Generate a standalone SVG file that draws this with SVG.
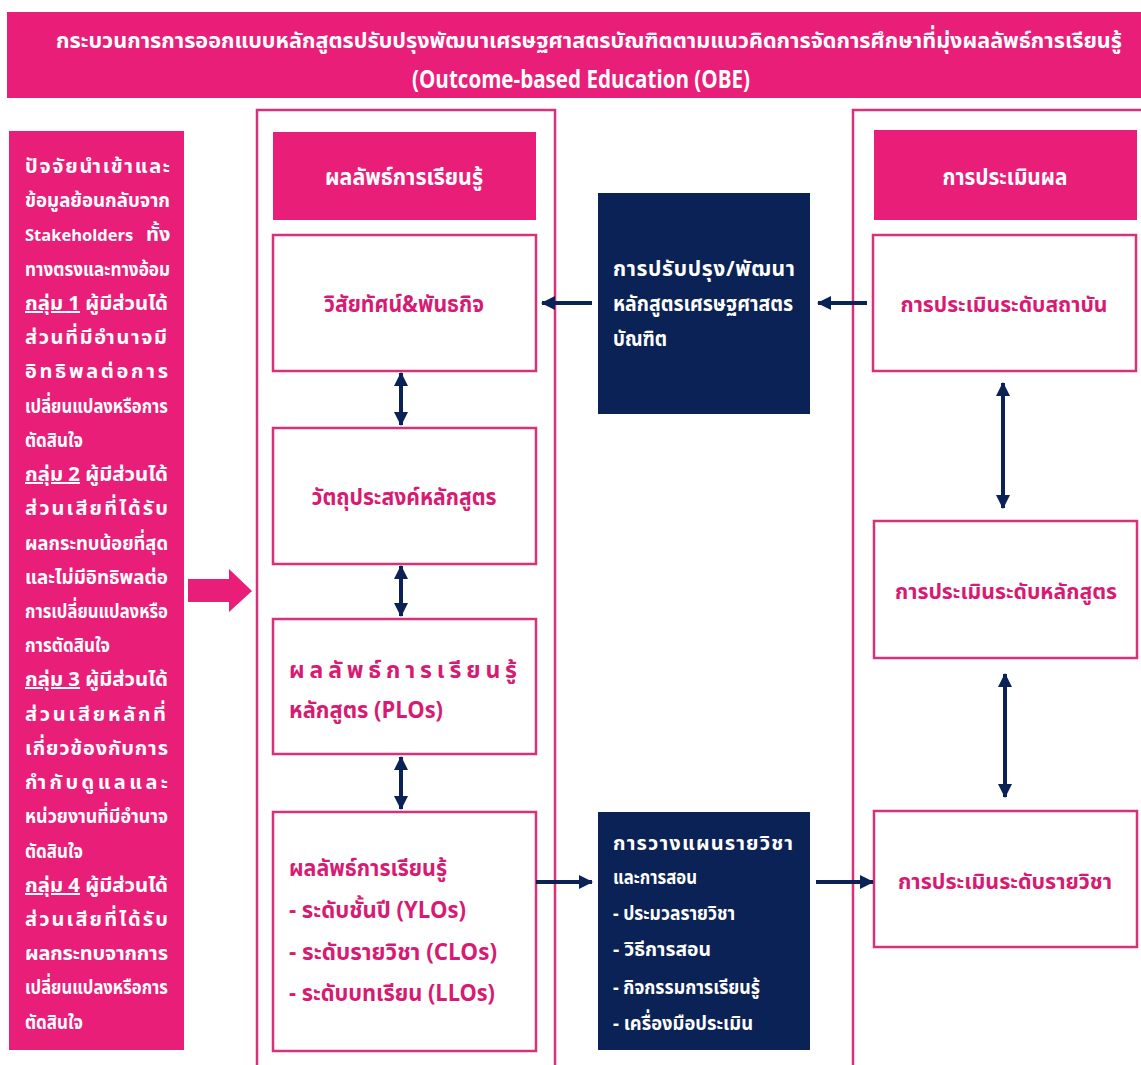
<svg xmlns="http://www.w3.org/2000/svg" width="1141" height="1065" viewBox="0 0 1141 1065">
<defs>
<style>
.th{font-family:"Noto Sans Thai","Noto Sans","DejaVu Sans",sans-serif;font-weight:bold}
.w{fill:#ffffff}
.p{fill:#D81B72}
.pinkfill{fill:#E91E79}
.box{fill:#ffffff;stroke:#D9307A;stroke-width:2.5}
.frame{fill:none;stroke:#D9307A;stroke-width:2.5}
.navy{fill:#0B2256}
.conn{stroke:#0B2256;stroke-width:4;fill:none}
.lt{font-size:20px}
.ul{text-decoration:underline}
</style>
<marker id="ah" markerUnits="userSpaceOnUse" viewBox="0 0 14 14" markerWidth="14" markerHeight="14" refX="13" refY="7" orient="auto-start-reverse">
<path d="M0,0 L14,7 L0,14 z" fill="#0B2256"/>
</marker>
</defs>
<rect width="1141" height="1065" fill="#ffffff"/>

<g id="title">
<rect x="7" y="12" width="1134" height="86" class="pinkfill"/>
<text x="589" y="48" class="th w" font-size="22" text-anchor="middle" textLength="1066" lengthAdjust="spacingAndGlyphs">กระบวนการการออกแบบหลักสูตรปรับปรุงพัฒนาเศรษฐศาสตรบัณฑิตตามแนวคิดการจัดการศึกษาที่มุ่งผลลัพธ์การเรียนรู้</text>
<text x="581" y="88" class="th w" font-size="25" text-anchor="middle" textLength="338" lengthAdjust="spacingAndGlyphs">(Outcome-based Education (OBE)</text>
</g>

<g id="inputs">
<rect x="9" y="131" width="175" height="919" class="pinkfill"/>
<g class="th w lt">
<text x="25" y="173" textLength="145" lengthAdjust="spacing">ปัจจัยนำเข้าและ</text>
<text x="25" y="207" textLength="145" lengthAdjust="spacingAndGlyphs">ข้อมูลย้อนกลับจาก</text>
<text x="25" y="241"><tspan font-size="16.5">Stakeholders</tspan><tspan x="146">ทั้ง</tspan></text>
<text x="25" y="276" textLength="145" lengthAdjust="spacingAndGlyphs">ทางตรงและทางอ้อม</text>
<text x="25" y="310" textLength="143" lengthAdjust="spacingAndGlyphs"><tspan class="ul">กลุ่ม 1</tspan> ผู้มีส่วนได้</text>
<text x="25" y="344" textLength="142" lengthAdjust="spacing">ส่วนที่มีอำนาจมี</text>
<text x="25" y="378" textLength="143" lengthAdjust="spacing">อิทธิพลต่อการ</text>
<text x="25" y="413" textLength="143" lengthAdjust="spacingAndGlyphs">เปลี่ยนแปลงหรือการ</text>
<text x="25" y="447" textLength="58" lengthAdjust="spacingAndGlyphs">ตัดสินใจ</text>
<text x="25" y="481" textLength="143" lengthAdjust="spacingAndGlyphs"><tspan class="ul">กลุ่ม 2</tspan> ผู้มีส่วนได้</text>
<text x="25" y="515" textLength="143" lengthAdjust="spacing">ส่วนเสียที่ได้รับ</text>
<text x="25" y="550" textLength="143" lengthAdjust="spacingAndGlyphs">ผลกระทบน้อยที่สุด</text>
<text x="25" y="584" textLength="143" lengthAdjust="spacingAndGlyphs">และไม่มีอิทธิพลต่อ</text>
<text x="25" y="618" textLength="143" lengthAdjust="spacingAndGlyphs">การเปลี่ยนแปลงหรือ</text>
<text x="25" y="652" textLength="85" lengthAdjust="spacingAndGlyphs">การตัดสินใจ</text>
<text x="25" y="686" textLength="143" lengthAdjust="spacingAndGlyphs"><tspan class="ul">กลุ่ม 3</tspan> ผู้มีส่วนได้</text>
<text x="25" y="721" textLength="141" lengthAdjust="spacing">ส่วนเสียหลักที่</text>
<text x="25" y="755" textLength="143" lengthAdjust="spacing">เกี่ยวข้องกับการ</text>
<text x="25" y="789" textLength="143" lengthAdjust="spacing">กำกับดูแลและ</text>
<text x="25" y="823" textLength="143" lengthAdjust="spacingAndGlyphs">หน่วยงานที่มีอำนาจ</text>
<text x="25" y="858" textLength="58" lengthAdjust="spacingAndGlyphs">ตัดสินใจ</text>
<text x="25" y="892" textLength="143" lengthAdjust="spacingAndGlyphs"><tspan class="ul">กลุ่ม 4</tspan> ผู้มีส่วนได้</text>
<text x="25" y="926" textLength="143" lengthAdjust="spacing">ส่วนเสียที่ได้รับ</text>
<text x="25" y="960" textLength="143" lengthAdjust="spacing">ผลกระทบจากการ</text>
<text x="25" y="994" textLength="143" lengthAdjust="spacingAndGlyphs">เปลี่ยนแปลงหรือการ</text>
<text x="25" y="1029" textLength="58" lengthAdjust="spacingAndGlyphs">ตัดสินใจ</text>
</g>
</g>

<g id="big-arrow">
<path d="M188,579 L229,579 L229,569 L252,591 L229,612 L229,602 L188,602 z" class="pinkfill"/>
</g>

<g id="frame-outcomes">
<path d="M257,1066 L257,110 L555,110 L555,1066" class="frame"/>
</g>
<g id="frame-evaluation">
<path d="M853,1066 L853,110 L1142,110" class="frame"/>
</g>

<g id="header-outcomes">
<rect x="273" y="132" width="263" height="88" class="pinkfill"/>
<text x="404" y="185" class="th w" font-size="23" text-anchor="middle" textLength="158" lengthAdjust="spacingAndGlyphs">ผลลัพธ์การเรียนรู้</text>
</g>
<g id="vision">
<rect x="273" y="235" width="263" height="136" class="box"/>
<text x="404" y="312" class="th p" font-size="23" text-anchor="middle" textLength="160" lengthAdjust="spacingAndGlyphs">วิสัยทัศน์&amp;พันธกิจ</text>
</g>
<g id="objectives">
<rect x="273" y="428" width="263" height="136" class="box"/>
<text x="404" y="505" class="th p" font-size="23" text-anchor="middle" textLength="185" lengthAdjust="spacingAndGlyphs">วัตถุประสงค์หลักสูตร</text>
</g>
<g id="plos">
<rect x="273" y="619" width="263" height="135" class="box"/>
<text x="289" y="678" class="th p" font-size="23" textLength="228" lengthAdjust="spacing">ผลลัพธ์การเรียนรู้</text>
<text x="289" y="718" class="th p" font-size="23" textLength="154" lengthAdjust="spacingAndGlyphs">หลักสูตร (PLOs)</text>
</g>
<g id="llos">
<rect x="273" y="812" width="263" height="239" class="box"/>
<text x="289" y="876" class="th p" font-size="23" textLength="158" lengthAdjust="spacingAndGlyphs">ผลลัพธ์การเรียนรู้</text>
<text x="289" y="918" class="th p" font-size="23" textLength="177" lengthAdjust="spacingAndGlyphs">- ระดับชั้นปี (YLOs)</text>
<text x="289" y="960" class="th p" font-size="23" textLength="208" lengthAdjust="spacingAndGlyphs">- ระดับรายวิชา (CLOs)</text>
<text x="289" y="1001" class="th p" font-size="23" textLength="206" lengthAdjust="spacingAndGlyphs">- ระดับบทเรียน (LLOs)</text>
</g>

<g id="improve">
<rect x="598" y="193" width="212" height="221" class="navy"/>
<text x="613" y="276" class="th w" font-size="21" textLength="182" lengthAdjust="spacing">การปรับปรุง/พัฒนา</text>
<text x="613" y="311" class="th w" font-size="21" textLength="180" lengthAdjust="spacingAndGlyphs">หลักสูตรเศรษฐศาสตร</text>
<text x="613" y="346" class="th w" font-size="21" textLength="54" lengthAdjust="spacingAndGlyphs">บัณฑิต</text>
</g>
<g id="planning">
<rect x="598" y="812" width="212" height="238" class="navy"/>
<text x="613" y="850" class="th w" font-size="20" textLength="180" lengthAdjust="spacing">การวางแผนรายวิชา</text>
<text x="613" y="884" class="th w" font-size="20" textLength="84" lengthAdjust="spacingAndGlyphs">และการสอน</text>
<text x="613" y="920" class="th w" font-size="20" textLength="122" lengthAdjust="spacingAndGlyphs">- ประมวลรายวิชา</text>
<text x="613" y="956" class="th w" font-size="20" textLength="98" lengthAdjust="spacingAndGlyphs">- วิธีการสอน</text>
<text x="613" y="994" class="th w" font-size="20" textLength="147" lengthAdjust="spacingAndGlyphs">- กิจกรรมการเรียนรู้</text>
<text x="613" y="1030" class="th w" font-size="20" textLength="140" lengthAdjust="spacingAndGlyphs">- เครื่องมือประเมิน</text>
</g>

<g id="header-evaluation">
<rect x="874" y="130" width="263" height="90" class="pinkfill"/>
<text x="1005" y="185" class="th w" font-size="23" text-anchor="middle" textLength="125" lengthAdjust="spacingAndGlyphs">การประเมินผล</text>
</g>
<g id="eval-institution">
<rect x="873" y="235" width="263" height="136" class="box"/>
<text x="1004" y="312" class="th p" font-size="22" text-anchor="middle" textLength="207" lengthAdjust="spacingAndGlyphs">การประเมินระดับสถาบัน</text>
</g>
<g id="eval-program">
<rect x="874" y="521" width="263" height="137" class="box"/>
<text x="1006" y="599" class="th p" font-size="22" text-anchor="middle" textLength="222" lengthAdjust="spacingAndGlyphs">การประเมินระดับหลักสูตร</text>
</g>
<g id="eval-course">
<rect x="874" y="811" width="263" height="136" class="box"/>
<text x="1005" y="889" class="th p" font-size="22" text-anchor="middle" textLength="214" lengthAdjust="spacingAndGlyphs">การประเมินระดับรายวิชา</text>
</g>

<g id="connectors">
<line x1="592" y1="303" x2="542" y2="303" class="conn" marker-end="url(#ah)"/>
<line x1="867" y1="303" x2="818" y2="303" class="conn" marker-end="url(#ah)"/>
<line x1="536" y1="882" x2="592" y2="882" class="conn" marker-end="url(#ah)"/>
<line x1="816" y1="882" x2="873" y2="882" class="conn" marker-end="url(#ah)"/>
<line x1="401" y1="373" x2="401" y2="425" class="conn" marker-start="url(#ah)" marker-end="url(#ah)"/>
<line x1="401" y1="566" x2="401" y2="616" class="conn" marker-start="url(#ah)" marker-end="url(#ah)"/>
<line x1="401" y1="757" x2="401" y2="809" class="conn" marker-start="url(#ah)" marker-end="url(#ah)"/>
<line x1="1003" y1="383" x2="1003" y2="508" class="conn" marker-start="url(#ah)" marker-end="url(#ah)"/>
<line x1="1005" y1="674" x2="1005" y2="797" class="conn" marker-start="url(#ah)" marker-end="url(#ah)"/>
</g>
</svg>
